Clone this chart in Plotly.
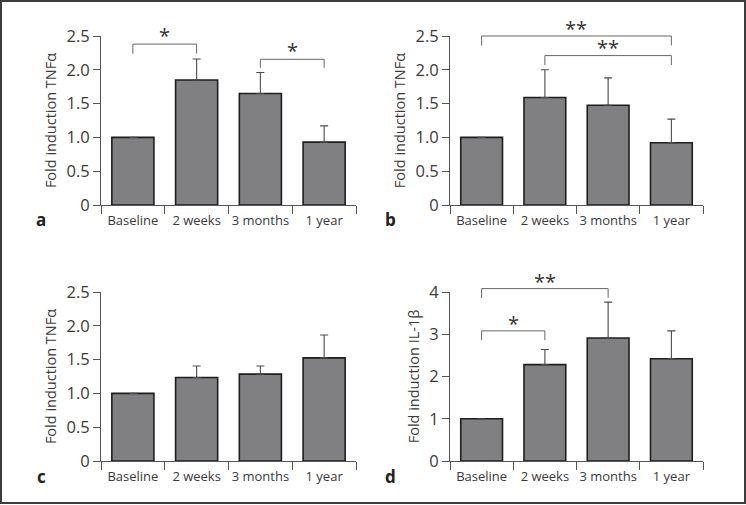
import plotly.graph_objects as go

# ---------------- data ----------------
categories = ["Baseline", "2 weeks", "3 months", "1 year"]

tnf_a_mean = [1.0, 1.85, 1.65, 0.93]
tnf_a_err = [None, 0.31, 0.31, 0.24]

tnf_b_mean = [1.0, 1.59, 1.475, 0.92]
tnf_b_err = [None, 0.41, 0.405, 0.35]

tnf_c_mean = [1.0, 1.235, 1.285, 1.525]
tnf_c_err = [None, 0.17, 0.12, 0.34]

il1b_d_mean = [1.0, 2.28, 2.91, 2.42]
il1b_d_err = [None, 0.36, 0.85, 0.66]

tnf_ticks = [0, 0.5, 1.0, 1.5, 2.0, 2.5]
tnf_ticktext = ["0", "0.5", "1.0", "1.5", "2.0", "2.5"]
il_ticks = [0, 1, 2, 3, 4]
il_ticktext = ["0", "1", "2", "3", "4"]

# significance brackets: (from category index, to category index, bar height, tip height, star height, label)
brackets_a = [(0, 1, 2.38, 2.24, 2.51, "*"), (2, 3, 2.155, 2.03, 2.29, "*")]
brackets_b = [(0, 3, 2.5, 2.36, 2.61, "**"), (1, 3, 2.21, 2.07, 2.33, "**")]
brackets_c = []
brackets_d = [(0, 2, 4.08, 3.86, 4.25, "**"), (0, 1, 3.08, 2.86, 3.25, "*")]

# ---------------- layout helpers ----------------
W, H = 746, 505
FONT = "Open Sans"
TXT = "#3a3a3a"
AX = "#555555"

# pixel boxes of the plot areas (left, right, top, bottom)
boxes = [
    (101, 356, 36, 205),
    (450, 703, 36, 205),
    (101, 356, 292, 461),
    (450, 703, 292, 461),
]
panels = [
    ("a", tnf_a_mean, tnf_a_err, [0, 2.5], tnf_ticks, tnf_ticktext, "Fold induction TNFα", brackets_a),
    ("b", tnf_b_mean, tnf_b_err, [0, 2.5], tnf_ticks, tnf_ticktext, "Fold induction TNFα", brackets_b),
    ("c", tnf_c_mean, tnf_c_err, [0, 2.5], tnf_ticks, tnf_ticktext, "Fold induction TNFα", brackets_c),
    ("d", il1b_d_mean, il1b_d_err, [0, 4], il_ticks, il_ticktext, "Fold induction IL-1β", brackets_d),
]


def px_x(x):
    return x / W


def px_y(y):
    return 1 - y / H


fig = go.Figure()
shapes = []
annotations = []

for k, (letter, mean, err, yrange, tv, tt, ytitle, brs) in enumerate(panels):
    l, r, t, b = boxes[k]
    xd = [px_x(l), px_x(r)]
    yd = [px_y(b), px_y(t)]
    sfx = "" if k == 0 else str(k + 1)
    xa, ya = "x" + sfx, "y" + sfx

    errplus = [0 if e is None else e for e in err]
    fig.add_trace(go.Bar(
        x=categories, y=mean, xaxis=xa, yaxis=ya,
        marker=dict(color="#808083", line=dict(color="#1e1e1e", width=1.6)),
        error_y=dict(type="data", symmetric=False, array=errplus,
                     arrayminus=[0] * len(errplus), color="#4a4a4a",
                     thickness=1.1, width=4,
                     visible=True),
        showlegend=False, hoverinfo="skip",
    ))

    fig.layout["xaxis" + sfx] = dict(
        domain=xd, anchor=ya, type="category", range=[-0.5, 3.5],
        showline=True, linecolor=AX, linewidth=1, mirror=False,
        ticks="outside", tickson="boundaries", ticklen=8, tickcolor=AX, tickwidth=1,
        showgrid=False, zeroline=False, tickangle=0, automargin=False,
        ticklabelstandoff=3,
        tickfont=dict(family=FONT, size=13, color=TXT),
    )
    fig.layout["yaxis" + sfx] = dict(
        domain=yd, anchor=xa, range=yrange,
        showline=True, linecolor=AX, linewidth=1,
        ticks="outside", ticklen=7, tickcolor=AX, tickwidth=1,
        tickvals=tv, ticktext=tt, showgrid=False, zeroline=False, automargin=False,
        tickfont=dict(family=FONT, size=16.5, color=TXT),
        title=dict(text=ytitle, font=dict(family=FONT, size=14.5, color=TXT), standoff=6),
    )

    # panel letter
    annotations.append(dict(
        text="<b>%s</b>" % letter, xref="paper", yref="paper",
        x=px_x(l - 60), y=px_y(b + 15), xanchor="center", yanchor="middle",
        showarrow=False, font=dict(family=FONT, size=17, color="#222")))

    # significance brackets (converted from data values to paper positions)
    def yv(v, yr=yrange, yd=yd):
        return yd[0] + (v - yr[0]) / (yr[1] - yr[0]) * (yd[1] - yd[0])

    def xv(i, xd=xd):
        return xd[0] + (i + 0.5) / len(categories) * (xd[1] - xd[0])

    for (i, j, ytop, ytip, ystar, lab) in brs:
        x1, x2 = xv(i), xv(j)
        shapes.append(dict(
            type="path", xref="paper", yref="paper",
            path="M %f,%f L %f,%f L %f,%f L %f,%f" % (x1, yv(ytip), x1, yv(ytop), x2, yv(ytop), x2, yv(ytip)),
            line=dict(color="#666666", width=1)))
        annotations.append(dict(
            text=lab, xref="paper", yref="paper", x=(x1 + x2) / 2, y=yv(ystar),
            xanchor="center", yanchor="middle", showarrow=False,
            font=dict(family=FONT, size=20, color="#333")))

# outer frame
shapes.append(dict(type="rect", xref="paper", yref="paper",
                   x0=px_x(1), x1=px_x(745), y0=px_y(503), y1=px_y(1),
                   line=dict(color="#3c3c3c", width=2)))

fig.update_layout(
    width=W, height=H,
    margin=dict(l=0, r=0, t=0, b=0, autoexpand=False),
    paper_bgcolor="white", plot_bgcolor="white",
    bargap=0.34,
    shapes=shapes, annotations=annotations,
    font=dict(family=FONT, color=TXT),
)

fig.write_html("out.html", config={"displayModeBar": False},
               post_script="document.body.style.margin='0';")
